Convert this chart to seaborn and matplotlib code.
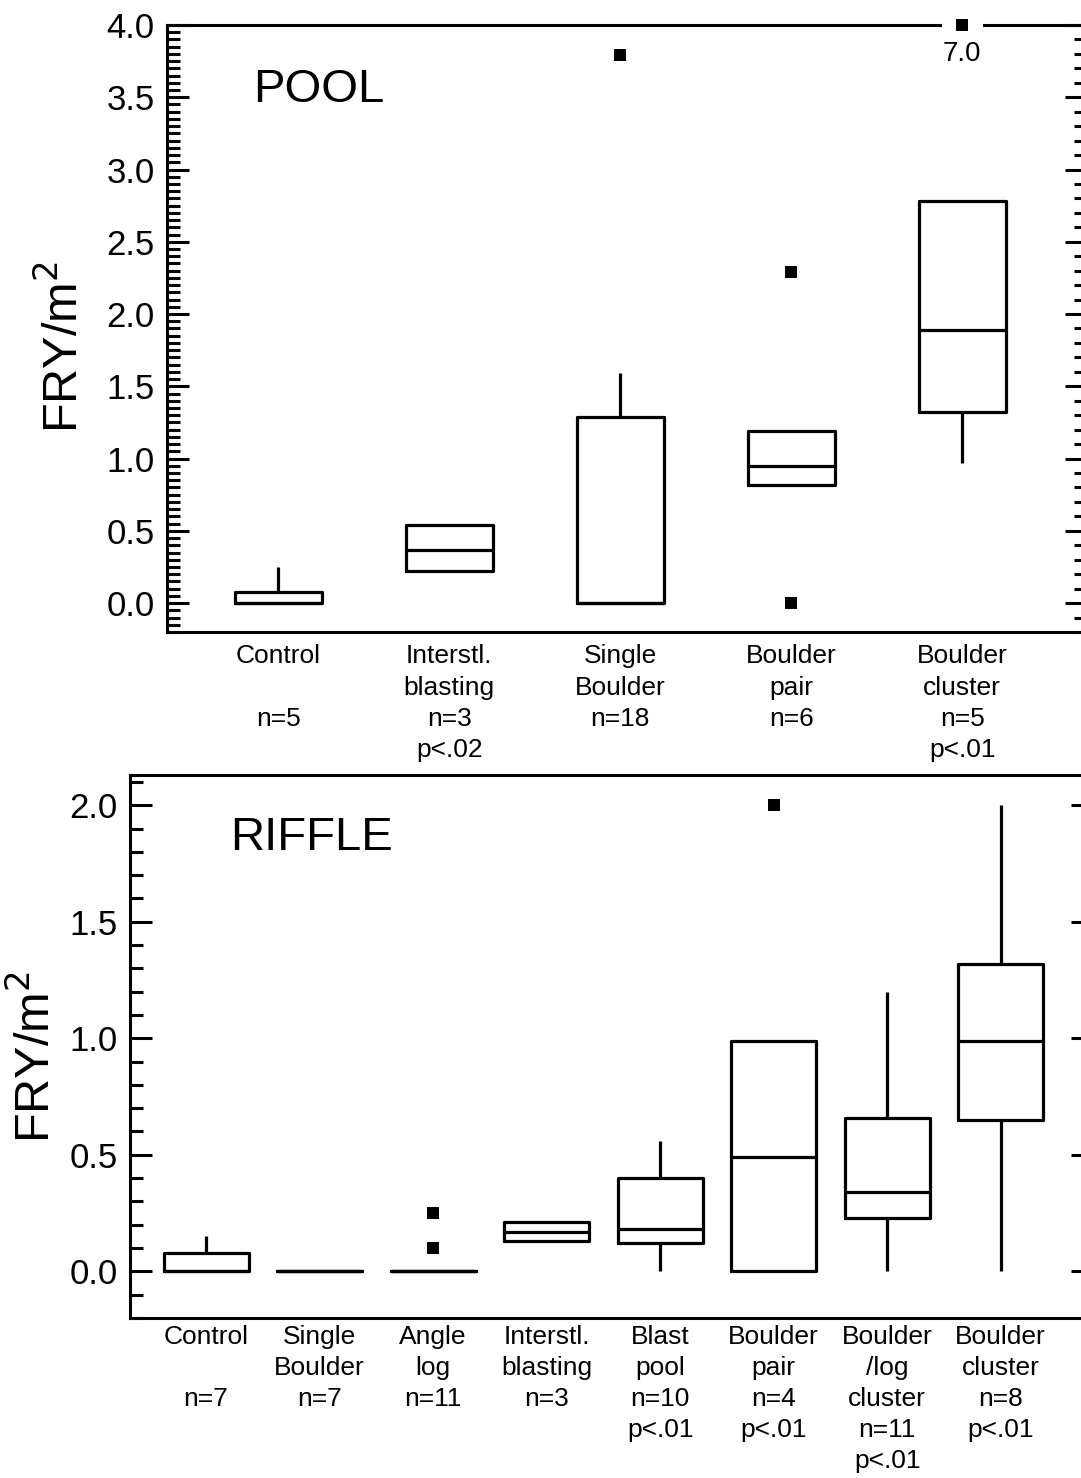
import numpy as np
import pandas as pd
import seaborn as sns
from matplotlib import pyplot as plt
from matplotlib.ticker import MultipleLocator, FormatStrFormatter

# ---- POOL panel ----
# box summary per group: whisker low, q1, median, q3, whisker high
pool_cats = ["Control", "Interstl. blasting", "Single Boulder", "Boulder pair", "Boulder cluster"]
pool_labels = ["Control\n\nn=5", "Interstl.\nblasting\nn=3\np<.02", "Single\nBoulder\nn=18",
               "Boulder\npair\nn=6", "Boulder\ncluster\nn=5\np<.01"]
pool_lo = [0.0, 0.22, 0.0, 0.82, 0.97]
pool_q1 = [0.0, 0.22, 0.0, 0.82, 1.32]
pool_med = [0.0, 0.37, 0.0, 0.95, 1.89]
pool_q3 = [0.08, 0.54, 1.29, 1.19, 2.78]
pool_hi = [0.25, 0.54, 1.59, 1.19, 2.78]
pool_out_cat = ["Single Boulder", "Boulder pair", "Boulder pair", "Boulder cluster"]
pool_out_val = [3.79, 2.29, 0.0, 7.0]

# ---- RIFFLE panel ----
riffle_cats = ["Control", "Single Boulder", "Angle log", "Interstl. blasting", "Blast pool",
               "Boulder pair", "Boulder/log cluster", "Boulder cluster"]
riffle_labels = ["Control\n\nn=7", "Single\nBoulder\nn=7", "Angle\nlog\nn=11", "Interstl.\nblasting\nn=3",
                 "Blast\npool\nn=10\np<.01", "Boulder\npair\nn=4\np<.01",
                 "Boulder\n/log\ncluster\nn=11\np<.01", "Boulder\ncluster\nn=8\np<.01"]
riffle_lo = [0.0, 0.0, 0.0, 0.13, 0.0, 0.0, 0.0, 0.0]
riffle_q1 = [0.0, 0.0, 0.0, 0.13, 0.12, 0.0, 0.23, 0.65]
riffle_med = [0.0, 0.0, 0.0, 0.17, 0.18, 0.49, 0.34, 0.99]
riffle_q3 = [0.08, 0.0, 0.0, 0.21, 0.40, 0.99, 0.66, 1.32]
riffle_hi = [0.15, 0.0, 0.0, 0.21, 0.56, 0.99, 1.20, 2.0]
riffle_out_cat = ["Angle log", "Angle log", "Boulder pair"]
riffle_out_val = [0.25, 0.10, 2.0]

sns.set_style("ticks")
plt.rcParams["font.family"] = ["Liberation Sans", "DejaVu Sans"]
plt.rcParams.update({
    "axes.linewidth": 2.2,
    "axes.edgecolor": "black",
    "axes.labelcolor": "black",
    "text.color": "black",
    "xtick.color": "black",
    "ytick.color": "black",
})


def draw_panel(ax, cats, labels, lo, q1, med, q3, hi, out_cat, out_val,
               ylim, xlim, width, minor_step, title, title_xy, label_xy, xpad):
    df = pd.DataFrame({
        "group": np.repeat(cats, 5),
        "fry": np.column_stack([lo, q1, med, q3, hi]).ravel(),
    })
    sns.boxplot(data=df, x="group", y="fry", order=cats, whis=(0, 100), width=width,
                fill=False, color="black", linewidth=2.3, showcaps=False,
                showfliers=False, ax=ax)

    ymax = ylim[1]
    n_before = len(ax.collections)
    sns.stripplot(x=out_cat, y=np.minimum(out_val, ymax), order=cats, jitter=False,
                  marker="s", size=9, color="black", linewidth=0, ax=ax)
    for c in ax.collections[n_before:]:
        c.set_clip_on(False)
        c.set_zorder(6)

    # values off the scale: break the frame and write the value
    for c, v in zip(out_cat, out_val):
        if v > ymax:
            i = cats.index(c)
            ax.plot([i - 0.12, i + 0.12], [ymax, ymax], color="white", lw=6,
                    solid_capstyle="butt", clip_on=False, zorder=5)
            ax.annotate(f"{v:.1f}", xy=(i, ymax), xytext=(0, -21), textcoords="offset points",
                        ha="center", va="center", fontsize=20, annotation_clip=False)

    ax.set_ylim(*ylim)
    ax.set_xlim(*xlim)
    ax.set_xticks(range(len(cats)))
    ax.set_xticklabels(labels, fontsize=19, linespacing=1.37)
    ax.tick_params(axis="x", length=0, pad=xpad)
    ax.yaxis.set_major_locator(MultipleLocator(0.5))
    ax.yaxis.set_minor_locator(MultipleLocator(minor_step))
    ax.yaxis.set_major_formatter(FormatStrFormatter("%.1f"))
    ax.tick_params(axis="y", which="major", direction="in", length=16, width=2.2,
                   labelsize=25, pad=9)
    ax.tick_params(axis="y", which="minor", direction="in", length=9, width=2.2)
    ax.set_xlabel("")
    ax.set_ylabel("FRY/m$^2$", fontsize=35)
    ax.yaxis.set_label_coords(*label_xy)
    ax.text(title_xy[0], title_xy[1], title, transform=ax.transAxes, fontsize=34,
            ha="center", va="center")
    for s in ax.spines.values():
        s.set_visible(True)
        s.set_linewidth(2.2)


fig = plt.figure(figsize=(10.81, 14.78), dpi=100)
ax1 = fig.add_axes([0.1545, 0.5724, 0.848, 0.4107])
ax2 = fig.add_axes([0.1203, 0.1083, 0.883, 0.3674])

draw_panel(ax1, pool_cats, pool_labels, pool_lo, pool_q1, pool_med, pool_q3, pool_hi,
           pool_out_cat, pool_out_val, ylim=(-0.2, 4.0), xlim=(-0.65, 4.71), width=0.51,
           minor_step=0.05, title="POOL", title_xy=(0.165, 0.893), label_xy=(-0.086, 0.47), xpad=9)
draw_panel(ax2, riffle_cats, riffle_labels, riffle_lo, riffle_q1, riffle_med, riffle_q3, riffle_hi,
           riffle_out_cat, riffle_out_val, ylim=(-0.2, 2.13), xlim=(-0.67, 7.74), width=0.75,
           minor_step=0.1, title="RIFFLE", title_xy=(0.19, 0.884), label_xy=(-0.073, 0.48), xpad=5)

# ticks along the right frame
r1 = ax1.twinx()
r1.set_ylim(ax1.get_ylim())
r1.yaxis.set_major_locator(MultipleLocator(0.5))
r1.yaxis.set_minor_locator(MultipleLocator(0.1))
r1.tick_params(axis="y", which="major", direction="in", length=14, width=2.2, labelright=False)
r1.tick_params(axis="y", which="minor", direction="in", length=7, width=2.2)
r1.grid(False)
for s in r1.spines.values():
    s.set_visible(False)

r2 = ax2.twinx()
r2.set_ylim(ax2.get_ylim())
r2.yaxis.set_major_locator(MultipleLocator(0.5))
r2.yaxis.set_minor_locator(MultipleLocator(10))
r2.tick_params(axis="y", which="major", direction="in", length=10, width=2.2, labelright=False)
r2.grid(False)
for s in r2.spines.values():
    s.set_visible(False)

fig.savefig("out.png", dpi=100)
